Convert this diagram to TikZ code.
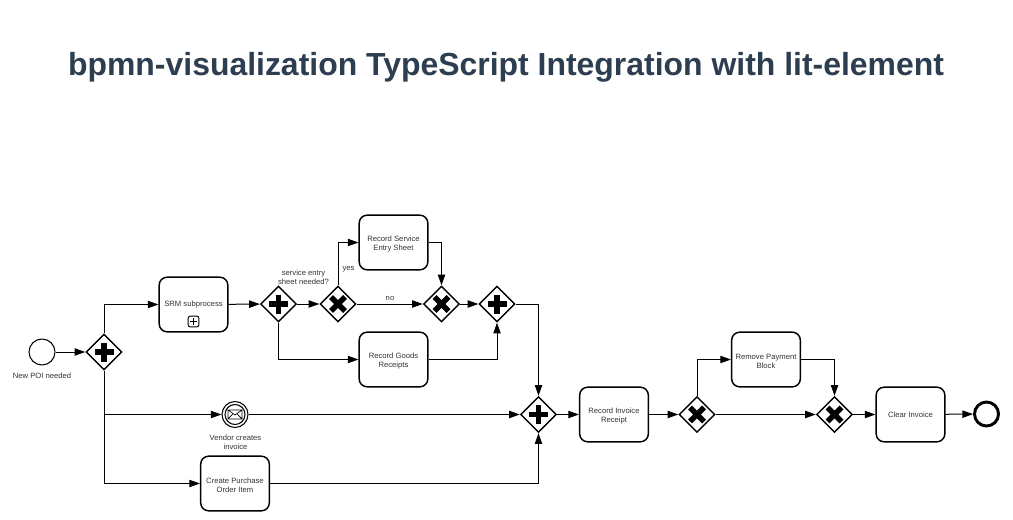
\documentclass[tikz,border=0pt]{standalone}
\usepackage{fontspec}
\setmainfont{Liberation Sans}
\usetikzlibrary{shapes.geometric,arrows.meta}
\definecolor{titlecol}{HTML}{2C3E50}
\definecolor{labelcol}{HTML}{333333}
\newcommand{\twolines}[2]{\rule{0pt}{7pt}#1\\#2}
\tikzset{
	flow/.style={line width=0.75pt,-{Triangle[length=8pt,width=5.5pt]}},
	task/.style={draw,line width=1.1pt,rounded corners=6pt,minimum width=51.5pt,minimum height=41pt,inner sep=0pt,align=center,font=\fontsize{5.75}{6.75}\selectfont,text=labelcol},
	gate/.style={draw,diamond,line width=1.1pt,minimum width=27pt,minimum height=27pt,inner sep=0pt},
	plusgate/.style={gate,path picture={\draw[shift={(path picture bounding box.center)},line width=4.4pt] (-9.5,0) -- (9.5,0) (0,-9.5) -- (0,9.5);}},
	xorgate/.style={gate,path picture={\draw[shift={(path picture bounding box.center)},line width=4.2pt] (-7,-7) -- (7,7) (-7,7) -- (7,-7);}},
	event/.style={draw,circle,minimum size=19.5pt,inner sep=0pt},
	lbl/.style={inner sep=0pt,align=center,font=\fontsize{5.75}{6.75}\selectfont,text=labelcol}
}
\begin{document}
\begin{tikzpicture}[x=0.75pt,y=-0.75pt]
	\useasboundingbox (0,0) rectangle (1013,520);
	\node[inner sep=0pt,text=titlecol,font=\fontsize{23.95}{28}\bfseries\selectfont] (title) at (506,67) {bpmn-visualization TypeScript Integration with lit-element};

	\node[event,line width=0.8pt] (start) at (42,352) {};
	\node[event,line width=2.2pt,minimum size=18pt] (end) at (986.5,414) {};
	\node[event,line width=0.8pt,path picture={
		\draw[shift={(path picture bounding box.center)},line width=0.8pt] (0,0) circle (10);
		\draw[shift={(path picture bounding box.center)},line width=0.5pt] (-7,-4.5) rectangle (7,4.5) (-7,-4.5) -- (0,0.5) -- (7,-4.5) (-7,4.5) -- (-2,-0.8) (7,4.5) -- (2,-0.8);
	}] (vendor) at (235,414.5) {};

	\node[plusgate] (split) at (104,352) {};
	\node[plusgate] (entrysplit) at (278.5,304) {};
	\node[xorgate] (needed) at (338,304) {};
	\node[xorgate] (entrymerge) at (441.5,304) {};
	\node[plusgate] (entryjoin) at (497,304) {};
	\node[plusgate] (join) at (538.5,414.5) {};
	\node[xorgate] (blocked) at (697,414.5) {};
	\node[xorgate] (unblocked) at (834.5,414.5) {};

	\node[task] (srm) at (193.5,304.5) {SRM subprocess};
	\node[task] (service) at (393.5,242.5) {\twolines{Record Service}{Entry Sheet}};
	\node[task] (goods) at (393.5,359.5) {\twolines{Record Goods}{Receipts}};
	\node[task] (order) at (235,483.5) {\twolines{Create Purchase}{Order Item}};
	\node[task] (receipt) at (614,414.5) {\twolines{Record Invoice}{Receipt}};
	\node[task] (remove) at (766,359.5) {\twolines{Remove Payment}{Block}};
	\node[task] (clear) at (910.5,414.5) {Clear Invoice};
	\node[draw,line width=0.7pt,rounded corners=1.5pt,minimum size=8pt,inner sep=0pt,path picture={
		\draw[shift={(path picture bounding box.center)},line width=0.7pt] (-3.5,0) -- (3.5,0) (0,-3.5) -- (0,3.5);
	}] (expand) at (193.5,321.5) {};

	\node[lbl] (startlbl) at (42,376) {New POI needed};
	\node[lbl] (vendorlbl) at (235.5,442) {Vendor creates\\invoice};
	\node[lbl] (neededlbl) at (303.5,277.5) {service entry\\sheet needed?};
	\node[lbl] (yeslbl) at (348.5,269) {yes};
	\node[lbl] (nolbl) at (390,298) {no};

	\draw[flow] (start) -- (split);
	\draw[flow] (split.north) |- (srm.west);
	\draw[flow] (split.south) |- (vendor.west);
	\draw[flow] (split.south) |- (order.west);
	\draw[flow] (srm) -- (entrysplit);
	\draw[flow] (entrysplit) -- (needed);
	\draw[flow] (entrysplit.south) |- (goods.west);
	\draw[flow] (needed.north) |- (service.west);
	\draw[flow] (needed) -- (entrymerge);
	\draw[flow] (service.east) -| (entrymerge.north);
	\draw[flow] (entrymerge) -- (entryjoin);
	\draw[flow] (goods.east) -| (entryjoin.south);
	\draw[flow] (entryjoin.east) -| (join.north);
	\draw[flow] (vendor) -- (join);
	\draw[flow] (order.east) -| (join.south);
	\draw[flow] (join) -- (receipt);
	\draw[flow] (receipt) -- (blocked);
	\draw[flow] (blocked.north) |- (remove.west);
	\draw[flow] (blocked) -- (unblocked);
	\draw[flow] (remove.east) -| (unblocked.north);
	\draw[flow] (unblocked) -- (clear);
	\draw[flow] (clear) -- (end);
\end{tikzpicture}
\end{document}
